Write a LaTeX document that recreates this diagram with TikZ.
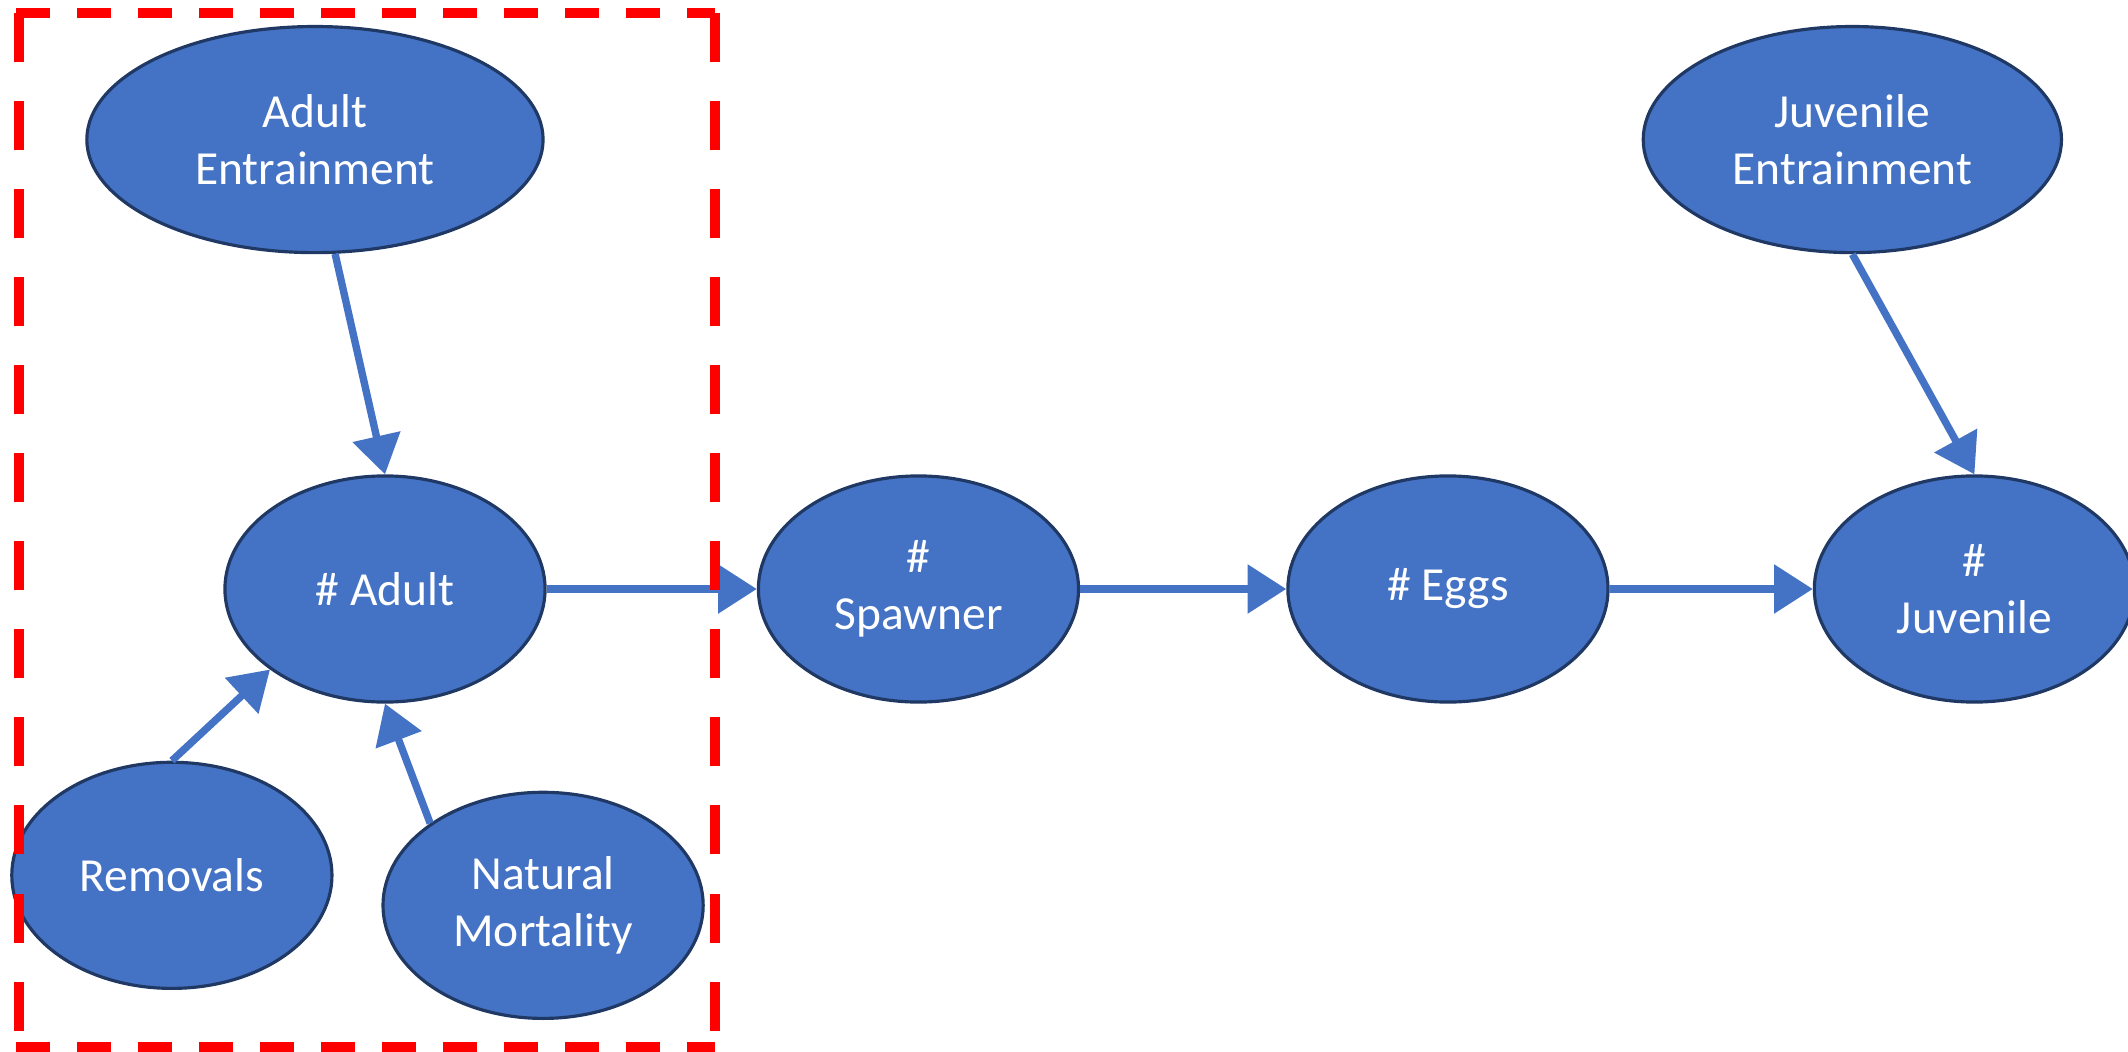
\documentclass[tikz,border=0pt]{standalone}
\usepackage{fontspec}
\setmainfont{Carlito}
\usetikzlibrary{shapes.geometric,positioning,arrows.meta}
\definecolor{popfill}{HTML}{4472C4}
\definecolor{popline}{HTML}{203864}

\tikzset{
  pop/.style={ellipse, draw=popline, line width=0.9pt, fill=popfill, text=white,
    inner sep=0pt, minimum width=3.2cm, minimum height=2.26cm, align=center,
    font=\fontsize{13.5}{16.2}\selectfont},
  flow/.style={draw=popfill, line width=2.1pt, -{Triangle[length=11pt,width=13.5pt]}},
  zone/.style={draw=red, line width=2.6pt}
}

\begin{document}
\begin{tikzpicture}[x=0.01cm, y=-0.01cm, node distance=2.1cm]
	\useasboundingbox (0,0) rectangle (2128,1052);
	% Define nodes
	\node[pop] (adult) at (385,589) {\# Adult};
	\node[pop, right=of adult] (spawn) {\#\\Spawner};
	\node[pop, right=2.06cm of spawn] (eggs) {\# Eggs};
	\node[pop, right=2.03cm of eggs] (juv) {\#\\Juvenile};
	\node[pop, above=2.2cm of adult, xshift=-0.7cm, minimum width=4.56cm] (aent) {Adult\\Entrainment};
	\node[pop, above=2.2cm of juv, xshift=-1.22cm, minimum width=4.18cm] (jent) {Juvenile\\Entrainment};
	\node[pop, below=0.57cm of adult, xshift=-2.13cm] (rem) {Removals};
	\node[pop, below=0.87cm of adult, xshift=1.58cm] (nmort) {Natural\\Mortality};
	% Connect the nodes
	\draw[flow] (aent.-80) -- (adult.north);
	\draw[flow] (rem.north) -- (adult.215);
	\draw[flow] (nmort.144) -- (adult.south);
	\draw[flow] (adult) -- (spawn);
	\draw[flow] (spawn) -- (eggs);
	\draw[flow] (eggs) -- (juv);
	\draw[flow] (jent.south) -- (juv.north);
	% Adult stage box
	\draw[zone, dash pattern=on 0.34cm off 0.27cm] (16,13) -- (715,13) (16,1047) -- (715,1047);
	\draw[zone, dash pattern=on 0.49cm off 0.39cm] (19,13) -- (19,1047) (715,13) -- (715,1047);
\end{tikzpicture}
\end{document}
